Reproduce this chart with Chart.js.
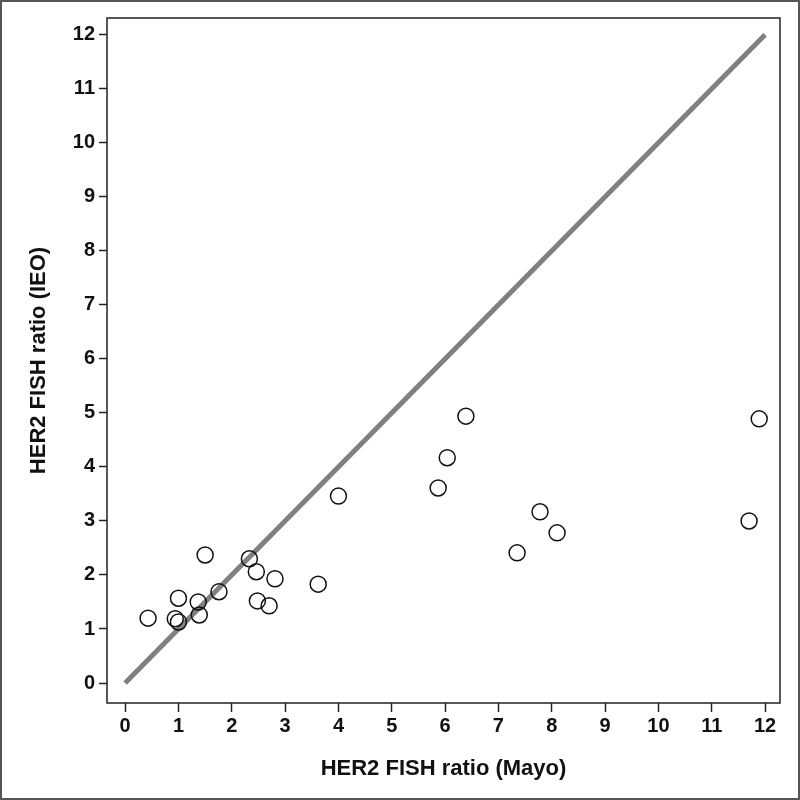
<!DOCTYPE html>
<html>
<head>
<meta charset="utf-8">
<script src="https://cdn.jsdelivr.net/npm/chart.js@4.4.1/dist/chart.umd.min.js"></script>
<style>
  html, body { margin: 0; padding: 0; background: #fff; }
  #wrap { width: 800px; height: 800px; }
</style>
</head>
<body>
<div id="wrap"><canvas id="scatter" width="800" height="800"></canvas></div>
<script>
// valores
const mayoRatio = [0.43, 0.94, 1.0, 1.0, 1.37, 1.39, 1.5, 1.76, 2.33, 2.46, 2.48, 2.7, 2.81,
                   3.62, 4.0, 5.87, 6.04, 6.39, 7.35, 7.78, 8.1, 11.7, 11.89];
const ieoRatio  = [1.20, 1.19, 1.57, 1.13, 1.5, 1.26, 2.37, 1.69, 2.30, 2.06, 1.52, 1.43, 1.93,
                   1.83, 3.46, 3.61, 4.17, 4.94, 2.41, 3.17, 2.78, 3.0, 4.89];
const lineX = [0, 12];
const lineY = [0, 12];
const tickValues = [0, 1, 2, 3, 4, 5, 6, 7, 8, 9, 10, 11, 12];

const tickFont = { family: '"Liberation Sans Narrow", "Arial Narrow", "Liberation Sans", sans-serif', size: 20, weight: 'bold' };
const titleFont = { family: '"Liberation Sans", Arial, sans-serif', size: 22, weight: 'bold' };

// marco del área y borde exterior
const framePlugin = {
    id: 'frame',
    afterDraw(chart) {
        const { ctx, chartArea: a } = chart;
        ctx.save();
        ctx.strokeStyle = '#222';
        ctx.lineWidth = 1.5;
        ctx.strokeRect(a.left, a.top, a.right - a.left, a.bottom - a.top);
        ctx.strokeStyle = '#555';
        ctx.lineWidth = 2;
        ctx.strokeRect(1, 1, chart.width - 2, chart.height - 2);
        ctx.restore();
    }
};

const ctx = document.getElementById('scatter').getContext('2d');
const chart = new Chart(ctx, {
    type: 'scatter',
    data: {
        datasets: [
            {
                type: 'line',
                data: lineX.map((x, i) => ({ x: x, y: lineY[i] })),
                borderColor: '#808080',
                borderWidth: 5,
                pointRadius: 0,
                fill: false,
                order: 2
            },
            {
                data: mayoRatio.map((x, i) => ({ x: x, y: ieoRatio[i] })),
                pointRadius: 8,
                pointBorderWidth: 1.5,
                pointBorderColor: '#111',
                pointBackgroundColor: 'rgba(255,255,255,0)',
                order: 1
            }
        ]
    },
    options: {
        responsive: false,
        animation: false,
        layout: { padding: { left: 0, top: 18, right: 20, bottom: 0 } },
        plugins: { legend: { display: false }, tooltip: { enabled: false } },
        scales: {
            x: {
                type: 'linear',
                min: -0.34, max: 12.28,
                afterFit(scale) { scale.height = 97; },
                afterBuildTicks(scale) { scale.ticks = tickValues.map(v => ({ value: v })); },
                grid: { drawOnChartArea: false, drawTicks: true, tickLength: 9, color: '#222', tickWidth: 1.5 },
                border: { display: false },
                ticks: { color: '#111', font: tickFont, padding: 2, maxRotation: 0 },
                title: { display: true, text: 'HER2 FISH ratio (Mayo)', color: '#111', font: titleFont, padding: { top: 4, bottom: 18 } }
            },
            y: {
                type: 'linear',
                min: -0.37, max: 12.31,
                afterFit(scale) { scale.width = 107; },
                afterBuildTicks(scale) { scale.ticks = tickValues.map(v => ({ value: v })); },
                grid: { drawOnChartArea: false, drawTicks: true, tickLength: 8, color: '#222', tickWidth: 1.5 },
                border: { display: false },
                ticks: { color: '#111', font: tickFont, padding: 4 },
                title: { display: true, text: 'HER2 FISH ratio (IEO)', color: '#111', font: titleFont, padding: { top: 26, bottom: 0 } }
            }
        }
    },
    plugins: [framePlugin]
});
</script>
</body>
</html>
